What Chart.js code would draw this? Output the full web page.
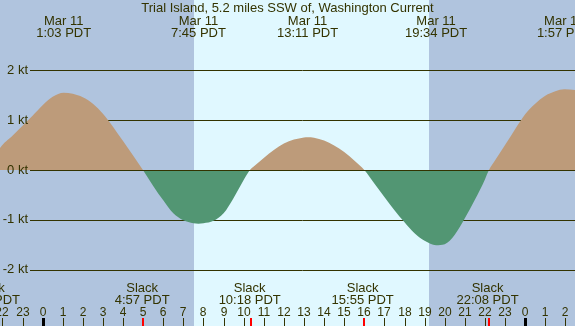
<!DOCTYPE html>
<html>
<head>
<meta charset="utf-8">
<script src="https://cdn.jsdelivr.net/npm/chart.js@4/dist/chart.umd.min.js"></script>
<style>
  html, body { margin: 0; padding: 0; background: #b0c4de; }
  canvas { display: block; }
</style>
</head>
<body>
<canvas id="tideChart" width="575" height="326"></canvas>
<script>
// hours since midnight Mar 11 (PDT), current speed in knots
const hours  = [-2.66, -2.12, -1.5, -1, -0.5, 0, 0.5, 1.05, 1.5, 2, 2.5, 3, 3.5, 4, 4.5, 4.99,
                5.5, 6, 6.5, 7, 7.5, 7.75, 8, 8.5, 9, 9.5, 10, 10.31,
                10.5, 11, 11.5, 12, 12.5, 13, 13.18, 13.5, 14, 14.5, 15, 15.5, 16,
                16.5, 17, 17.5, 18, 18.5, 19, 19.57, 20, 20.5, 21, 21.5, 22, 22.2,
                22.5, 23, 23.5, 24, 24.5, 25, 25.5, 25.95, 26.6];
const speeds = [0, 0.44, 0.69, 0.89, 1.09, 1.3, 1.47, 1.55, 1.53, 1.46, 1.33, 1.13, 0.87, 0.58, 0.29, 0,
                -0.32, -0.61, -0.87, -1.01, -1.07, -1.08, -1.07, -1.02, -0.87, -0.56, -0.2, 0,
                0.07, 0.24, 0.4, 0.53, 0.61, 0.655, 0.66, 0.65, 0.59, 0.49, 0.36, 0.19, 0,
                -0.27, -0.54, -0.81, -1.05, -1.27, -1.42, -1.51, -1.49, -1.3, -0.97, -0.6, -0.19, 0,
                0.19, 0.5, 0.82, 1.12, 1.33, 1.49, 1.58, 1.62, 1.6];

// max flood / max ebb events (top labels)
const maxTimes  = [1.05, 7.75, 13.18, 19.57, 25.95];
const maxDates  = ['Mar 11', 'Mar 11', 'Mar 11', 'Mar 11', 'Mar 12'];
const maxLabels = ['1:03 PDT', '7:45 PDT', '13:11 PDT', '19:34 PDT', '1:57 PDT'];

// slack water events (bottom labels)
const slackTimes  = [-2.67, 4.95, 10.3, 15.92, 22.13];
const slackLabels = ['21:20 PDT', '4:57 PDT', '10:18 PDT', '15:55 PDT', '22:08 PDT'];

// daylight, hour ticks, knot lines
const sunrise = 7.53;
const sunset = 19.22;
const hourTicks = [-2, -1, 0, 1, 2, 3, 4, 5, 6, 7, 8, 9, 10, 11, 12, 13, 14, 15, 16, 17, 18, 19, 20, 21, 22, 23, 24, 25, 26];
const knotLines = [-2, -1, 0, 1, 2];

const INK = '#333300';
const FONT = '13px "Liberation Sans", Arial, sans-serif';

const tidePlugin = {
    id: 'tidePlugin',
    beforeDraw(chart) {
        const { ctx, scales: { x } } = chart;
        ctx.save();
        ctx.fillStyle = '#b0c4de';
        ctx.fillRect(0, 0, chart.width, chart.height);
        ctx.fillStyle = '#e0f8ff';
        const x0 = Math.round(x.getPixelForValue(sunrise));
        const x1 = Math.round(x.getPixelForValue(sunset));
        ctx.fillRect(x0, 0, x1 - x0, chart.height);
        ctx.restore();
    },
    beforeDatasetsDraw(chart) {
        const { ctx, scales: { y } } = chart;
        ctx.save();
        ctx.strokeStyle = INK;
        ctx.lineWidth = 1;
        knotLines.forEach(v => {
            const py = Math.round(y.getPixelForValue(v)) + 0.5;
            ctx.beginPath();
            ctx.moveTo(30, py);
            ctx.lineTo(chart.width, py);
            ctx.stroke();
        });
        ctx.restore();
    },
    afterDatasetsDraw(chart) {
        const { ctx, scales: { x, y } } = chart;
        ctx.save();
        // zero line stays visible over the fills
        ctx.strokeStyle = INK;
        ctx.lineWidth = 1;
        const p0 = Math.round(y.getPixelForValue(0)) + 0.5;
        ctx.beginPath();
        ctx.moveTo(30, p0);
        ctx.lineTo(chart.width, p0);
        ctx.stroke();

        ctx.fillStyle = INK;
        ctx.font = FONT;

        // knot labels
        ctx.textAlign = 'right';
        ctx.textBaseline = 'middle';
        knotLines.forEach(v => {
            ctx.fillText(v + ' kt', 28, y.getPixelForValue(v));
        });

        ctx.textAlign = 'center';
        ctx.textBaseline = 'alphabetic';
        ctx.fillText('Trial Island, 5.2 miles SSW of, Washington Current', chart.width / 2, 12);

        maxTimes.forEach((t, i) => {
            const px = x.getPixelForValue(t);
            ctx.fillText(maxDates[i], px, 24.5);
            ctx.fillText(maxLabels[i], px, 36.5);
        });

        slackTimes.forEach((t, i) => {
            const px = x.getPixelForValue(t);
            ctx.fillText('Slack', px, 291.5);
            ctx.fillText(slackLabels[i], px, 303.5);
        });

        // hour axis
        ctx.font = '12px "Liberation Sans", Arial, sans-serif';
        hourTicks.forEach(h => {
            const px = Math.round(x.getPixelForValue(h));
            const label = ((h % 24) + 24) % 24;
            ctx.fillStyle = INK;
            ctx.fillText(String(label), px, 316);
            if (label === 0) {
                ctx.fillStyle = '#000000';
                ctx.fillRect(px - 1, 318, 3, 8);
            } else {
                ctx.fillRect(px, 318, 1, 8);
            }
        });

        ctx.fillStyle = '#ff0000';
        slackTimes.forEach(t => {
            const px = Math.round(x.getPixelForValue(t));
            ctx.fillRect(px, 318, 2, 8);
        });
        ctx.restore();
    }
};

new Chart(document.getElementById('tideChart'), {
    type: 'line',
    data: {
        datasets: [{
            label: 'Current',
            data: hours.map((h, i) => ({ x: h, y: speeds[i] })),
            borderWidth: 0,
            borderColor: 'rgba(0,0,0,0)',
            pointRadius: 0,
            cubicInterpolationMode: 'monotone',
            fill: {
                target: 'origin',
                above: '#bd9b7a',
                below: '#529673'
            }
        }]
    },
    options: {
        responsive: false,
        devicePixelRatio: 1,
        animation: false,
        layout: { padding: 0 },
        plugins: {
            legend: { display: false },
            tooltip: { enabled: false },
            title: { display: false }
        },
        scales: {
            x: { type: 'linear', min: -2.12, max: 26.48, display: false },
            y: { min: -3.133, max: 3.414, display: false }
        }
    },
    plugins: [tidePlugin]
});
</script>
</body>
</html>
